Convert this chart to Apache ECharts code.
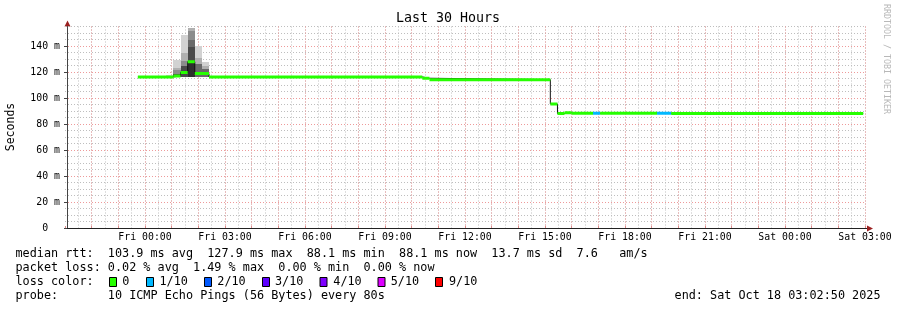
<!DOCTYPE html>
<html><head><meta charset="utf-8">
<script src="https://cdn.jsdelivr.net/npm/echarts@6/dist/echarts.min.js"></script>
<style>html,body{margin:0;padding:0;background:#fff}#c{width:897px;height:310px}</style>
</head><body><div id="c"></div>
<script>
const FONT = '"DejaVu Sans Mono", monospace';
const chartTitle = 'Last 30 Hours';
const yAxisName = 'Seconds';
const watermark = 'RRDTOOL / TOBI OETIKER';
// x in hours relative to Fri 00:00
const xMin = -3, xMax = 27;
const yMin = 0, yMax = 155;
const dayNames = ['Thu', 'Fri', 'Sat'];

// median rtt (ms), step segments
const medStart = [-0.267, 1.067, 1.333, 1.6, 1.867, 2.4, 10.4, 10.667, 15.2, 15.467, 15.733, 16.0, 16.8, 17.067, 19.2, 19.733];
const medEnd   = [1.067, 1.333, 1.6, 1.867, 2.4, 10.4, 10.667, 15.2, 15.467, 15.733, 16.0, 16.8, 17.067, 19.2, 19.733, 26.933];
const medValue = [116.2, 117.0, 119.7, 127.9, 118.8, 116.2, 115.2, 114.1, 95.4, 88.1, 88.7, 88.2, 88.2, 88.2, 88.2, 88.1];
const medLoss  = [0, 0, 0, 0, 0, 0, 0, 0, 0, 0, 0, 0, 1, 0, 1, 0];

// smoke (ping spread) columns
const smokeStart = [0.8, 1.067, 1.333, 1.6, 1.867, 2.133];
const smokeEnd   = [1.067, 1.333, 1.6, 1.867, 2.133, 2.4];
const smokeCol   = [0, 1, 1, 1, 1, 2, 2, 2, 2, 3, 3, 3, 3, 3, 4, 4, 4, 5, 5, 5];
const smokeLow   = [116.2, 123.3, 121.3, 118.2, 116.2, 134.6, 128.5, 124.6, 116.5, 151.3, 144.4, 139, 128.5, 116.2, 131, 125.9, 116.5, 124.4, 122.6, 116.5];
const smokeHigh  = [118.0, 129.5, 123.3, 121.3, 118.2, 148.2, 134.6, 128.5, 124.6, 153.8, 151.3, 144.4, 139, 128.5, 140, 131, 125.9, 127.7, 124.4, 122.6];
const smokeShade = [0, 0, 1, 2, 4, 0, 1, 2, 4, 1, 2, 3, 4, 5, 0, 1, 3, 0, 1, 3];

// legend / statistics text
const rttLine   = 'median rtt:  103.9 ms avg  127.9 ms max  88.1 ms min  88.1 ms now  13.7 ms sd  7.6   am/s';
const lossLine  = 'packet loss: 0.02 % avg  1.49 % max  0.00 % min  0.00 % now';
const colorLabel = 'loss color:';
const lossLabels = ['0', '1/10', '2/10', '3/10', '4/10', '5/10', '9/10'];
const probeLine = 'probe:       10 ICMP Echo Pings (56 Bytes) every 80s';
const endText = 'end: Sat Oct 18 03:02:50 2025';

// styles
const lossColors = ['#26ff00', '#00b8ff', '#0059ff', '#5e00ff', '#7e00ff', '#dd00ff', '#ff0000'];
const shades = ['#d2d2d2', '#b0b0b0', '#8c8c8c', '#6a6a6a', '#4a4a4a', '#2e2e2e'];
const RED_GRID = '#ee9a9a', GREY_GRID = '#bebebe';
const boxX = [109, 146, 204, 262, 319.5, 377.5, 435];
const lossLabelX = [122.3, 159.5, 217.3, 275, 333.3, 390.7, 449];
const rowY = [254.3, 268.3, 282.3, 296];

const medData = medStart.map((s, i) => [s, medEnd[i], medValue[i], medLoss[i]]);
const stepData = [];
medStart.forEach((s, i) => { stepData.push([s, medValue[i]]); stepData.push([medEnd[i], medValue[i]]); });
const smokeData = smokeCol.map((c, i) => [smokeStart[c], smokeEnd[c], smokeLow[i], smokeHigh[i], smokeShade[i]]);

function hourLabel(v) {
  const r = Math.round(v);
  if (Math.abs(v - r) > 1e-6 || r < 0 || r % 3 !== 0) return '';
  const day = dayNames[Math.floor((r + 24) / 24)];
  const hh = ((r % 24) + 24) % 24;
  return day + ' ' + String(hh).padStart(2, '0') + ':00';
}

const chart = echarts.init(document.getElementById('c'), null, {renderer: 'canvas'});
const txt = (x, y, text, size, align) => ({
  type: 'text', x: x, y: y, silent: true,
  style: {text: text, font: (size || 11.8) + 'px ' + FONT, fill: '#000', textVerticalAlign: 'middle', textAlign: align || 'left'}
});

const graphics = [];
graphics.push(txt(448, 19, chartTitle, 13.3, 'center'));
graphics.push({type: 'text', x: 11, y: 127, rotation: Math.PI / 2, silent: true,
  style: {text: yAxisName, font: '11.5px ' + FONT, fill: '#000', textAlign: 'center', textVerticalAlign: 'middle'}});
graphics.push({type: 'text', x: 886, y: 59, rotation: -Math.PI / 2, silent: true,
  style: {text: watermark, font: '8.3px ' + FONT, fill: '#b8b8b8', textAlign: 'center', textVerticalAlign: 'middle'}});
graphics.push(txt(15.5, rowY[0], rttLine));
graphics.push(txt(15.5, rowY[1], lossLine));
graphics.push(txt(15.5, rowY[2], colorLabel));
lossLabels.forEach((t, i) => {
  graphics.push({type: 'rect', silent: true, shape: {x: boxX[i] + 0.5, y: 277.5, width: 7, height: 9},
    style: {fill: lossColors[i], stroke: '#000', lineWidth: 1}});
  graphics.push(txt(lossLabelX[i], rowY[2], t));
});
graphics.push(txt(15.5, rowY[3], probeLine));
graphics.push(txt(880.5, rowY[3], endText, 11.8, 'right'));
// axis arrows
graphics.push({type: 'polygon', silent: true, shape: {points: [[67.5, 20.5], [64.5, 26.5], [70.5, 26.5]]}, style: {fill: '#9b2020'}});
graphics.push({type: 'line', silent: true, shape: {x1: 865, y1: 228.5, x2: 868, y2: 228.5}, style: {stroke: '#222', lineWidth: 1}});
graphics.push({type: 'polygon', silent: true, shape: {points: [[867, 225.5], [873, 228.5], [867, 231.5]]}, style: {fill: '#9b2020'}});

const dotted = [1, 2];
chart.setOption({
  animation: false,
  backgroundColor: '#ffffff',
  grid: {left: 65, right: 32, top: 26.5, bottom: 82, containLabel: false},
  xAxis: [{
    // minor grid: every 30 minutes
    type: 'value', min: xMin, max: xMax, interval: 0.5, z: 0,
    axisLine: {show: false}, axisTick: {show: false}, axisLabel: {show: false},
    splitLine: {show: true, showMinLine: false, lineStyle: {color: GREY_GRID, type: dotted, width: 1}}
  }, {
    // major grid: every hour, labels every 3 hours
    type: 'value', min: xMin, max: xMax, interval: 1, z: 1, position: 'bottom',
    axisLine: {show: true, onZero: false, lineStyle: {color: '#222', width: 1}},
    axisTick: {show: true, inside: true, length: 2, lineStyle: {color: '#e08a8a'}},
    axisLabel: {show: true, margin: 4.5, formatter: hourLabel, color: '#000', fontFamily: FONT, fontSize: 9.85},
    splitLine: {show: true, showMinLine: false, lineStyle: {color: RED_GRID, type: dotted, width: 1}}
  }],
  yAxis: [{
    type: 'value', min: yMin, max: yMax, interval: 5, offset: -2, z: 0,
    axisLine: {show: true, onZero: false, lineStyle: {color: '#444', width: 1}},
    axisTick: {show: false}, axisLabel: {show: false},
    splitLine: {show: true, showMinLine: false, lineStyle: {color: GREY_GRID, type: dotted, width: 1}}
  }, {
    type: 'value', min: yMin, max: yMax, interval: 20, offset: -2, position: 'left', z: 1,
    axisLine: {show: false, onZero: false},
    axisTick: {show: true, length: 3, lineStyle: {color: '#444'}},
    axisLabel: {show: true, margin: 7, color: '#000', fontFamily: FONT, fontSize: 9.85, showMaxLabel: false,
      formatter: v => (v % 20 !== 0 ? '' : (v === 0 ? '0\u00a0\u00a0' : v + ' m'))},
    splitLine: {show: true, showMinLine: false, showMaxLine: false, lineStyle: {color: RED_GRID, type: dotted, width: 1}}
  }],
  series: [{
    type: 'custom', name: 'smoke', z: 1, clip: true, xAxisIndex: 0, yAxisIndex: 0,
    encode: {x: [0, 1], y: [2, 3]},
    data: smokeData,
    renderItem: (params, api) => {
      const p0 = api.coord([api.value(0), api.value(3)]);
      const p1 = api.coord([api.value(1), api.value(2)]);
      const x0 = Math.round(p0[0]), x1 = Math.round(p1[0]);
      const y0 = Math.round(p0[1]), y1 = Math.round(p1[1]);
      return {type: 'rect', shape: {x: x0, y: y0, width: x1 - x0, height: y1 - y0},
        style: {fill: shades[api.value(4)]}};
    }
  }, {
    type: 'line', name: 'median-step', z: 2, data: stepData, showSymbol: false, symbol: 'none',
    xAxisIndex: 0, yAxisIndex: 0,
    lineStyle: {color: '#111', width: 1}, clip: true
  }, {
    type: 'custom', name: 'median', z: 3, clip: true, xAxisIndex: 0, yAxisIndex: 0,
    encode: {x: [0, 1], y: 2},
    data: medData,
    renderItem: (params, api) => {
      const p0 = api.coord([api.value(0), api.value(2)]);
      const p1 = api.coord([api.value(1), api.value(2)]);
      return {type: 'line', shape: {x1: p0[0], y1: p0[1], x2: p1[0], y2: p1[1]},
        style: {stroke: lossColors[api.value(3)], lineWidth: 3, lineCap: 'butt'}};
    }
  }],
  graphic: graphics
});
</script></body></html>
